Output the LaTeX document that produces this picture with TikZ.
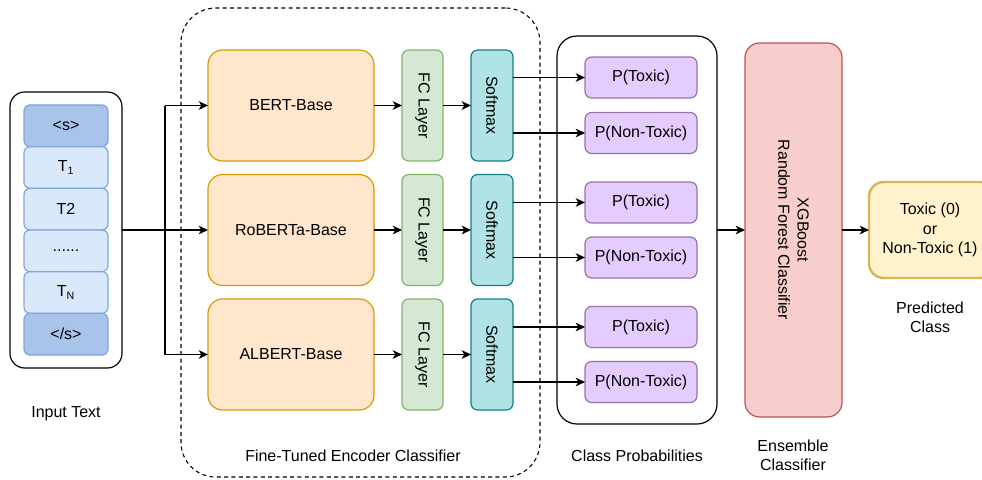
\documentclass[tikz,border=0pt]{standalone}
\usepackage{fontspec}
\setmainfont{Liberation Sans}
\usetikzlibrary{arrows.meta}
\definecolor{tokfill}{HTML}{DAE8FC}
\definecolor{tokdark}{HTML}{A9C4EB}
\definecolor{tokline}{HTML}{7EA6E0}
\definecolor{orfill}{HTML}{FFE6CC}
\definecolor{orline}{HTML}{D79B00}
\definecolor{grfill}{HTML}{D5E8D4}
\definecolor{grline}{HTML}{82B366}
\definecolor{cyfill}{HTML}{B0E3E6}
\definecolor{cyline}{HTML}{0E8088}
\definecolor{pufill}{HTML}{E5CCFF}
\definecolor{puline}{HTML}{9673A6}
\definecolor{refill}{HTML}{F8CECC}
\definecolor{reline}{HTML}{B85450}
\definecolor{yefill}{HTML}{FFF2CC}
\definecolor{yeline}{HTML}{D6B656}
\begin{document}
\begin{tikzpicture}[x=0.75pt,y=-0.75pt,
  every node/.style={font=\fontsize{12pt}{14.5pt}\selectfont, inner sep=0pt, outer sep=0pt, align=center},
  box/.style={draw, line width=0.9pt, rounded corners=#1},
  box/.default=5pt,
  tok/.style={box=4.5pt, draw=tokline, fill=tokfill, minimum width=63pt, minimum height=31.25pt},
  tokd/.style={tok, fill=tokdark},
  enc/.style={box=11pt, draw=orline, fill=orfill, minimum width=124.5pt, minimum height=83.25pt},
  fc/.style={box=5pt, draw=grline, fill=grfill, rotate=-90, minimum width=83.25pt, minimum height=30.75pt},
  sm/.style={box=5pt, draw=cyline, fill=cyfill, rotate=-90, minimum width=83.25pt, minimum height=31.5pt},
  pb/.style={box=5pt, draw=puline, fill=pufill, minimum width=84pt, minimum height=30.75pt},
  lbl/.style={},
  conn/.style={line width=0.9pt},
  arr/.style={conn, -{Stealth[length=7pt,width=6.5pt,inset=2pt]}}
]
\useasboundingbox (0,0) rectangle (982,479);
\clip (0,0) rectangle (982,479);
% containers
\node[box=11pt, draw=black, line width=0.9pt, minimum width=84pt, minimum height=207pt] (inp) at (66,230) {};
\node[box=26pt, draw=black, dashed, dash pattern=on 3pt off 2.5pt, line width=0.8pt, minimum width=269.25pt, minimum height=351.75pt] (ft) at (360.5,242.5) {};
\node[box=15pt, draw=black, line width=0.9pt, minimum width=120pt, minimum height=291pt] (cp) at (637,230) {};
% tokens
\node[tokd] (t0) at (66,125.8) {<s>};
\node[tok] (t1) at (66,167.5) {T\textsubscript{1}};
\node[tok] (t2) at (66,209.2) {T2};
\node[tok] (t3) at (66,250.8) {......};
\node[tok] (t4) at (66,292.5) {T\textsubscript{N}};
\node[tokd] (t5) at (66,334.2) {</s>};
% encoders
\node[enc] (bert) at (291,105.5) {BERT-Base};
\node[enc] (rob) at (291,230) {RoBERTa-Base};
\node[enc] (alb) at (291,354.5) {ALBERT-Base};
\node[fc] (fc1) at (422.5,105.5) {FC Layer};
\node[fc] (fc2) at (422.5,230) {FC Layer};
\node[fc] (fc3) at (422.5,354.5) {FC Layer};
\node[sm] (sm1) at (492,105.5) {Softmax};
\node[sm] (sm2) at (492,230) {Softmax};
\node[sm] (sm3) at (492,354.5) {Softmax};
% probabilities
\node[pb] (p1) at (641,77.5) {P(Toxic)};
\node[pb] (p2) at (641,133) {P(Non-Toxic)};
\node[pb] (p3) at (641,202.5) {P(Toxic)};
\node[pb] (p4) at (641,257.5) {P(Non-Toxic)};
\node[pb] (p5) at (641,327) {P(Toxic)};
\node[pb] (p6) at (641,382) {P(Non-Toxic)};
% ensemble
\node[box=11pt, draw=reline, fill=refill, rotate=-90, minimum width=280.5pt, minimum height=72.75pt] (ens) at (793.5,230) {XGBoost\\Random Forest Classifier};
% output
\node[box=11pt, draw=yeline, fill=yefill, line width=1.8pt, minimum width=94.5pt, minimum height=72pt] (out) at (932,230) {};
\node (outt) at (930,230) {Toxic (0)\\or\\Non-Toxic (1)};
% labels
\node[lbl] (l1) at (66,414) {Input Text};
\node[lbl] (l2) at (353,456) {Fine-Tuned Encoder Classifier};
\node[lbl] (l3) at (637,456) {Class Probabilities};
\node[lbl] (l4) at (793,455.5) {Ensemble\\Classifier};
\node[lbl] (l5) at (930,317) {Predicted\\Class};
% connectors (rotated nodes: south = left side, north = right side)
\coordinate (fork) at (165,230);
\draw[conn] (inp.east) -- (fork);
\draw[conn] (fork |- bert.west) -- (fork |- alb.west);
\draw[arr] (fork |- bert.west) -- (bert.west);
\draw[arr] (fork) -- (rob.west);
\draw[arr] (fork |- alb.west) -- (alb.west);
\draw[arr] (bert.east) -- (fc1.south);
\draw[arr] (rob.east) -- (fc2.south);
\draw[arr] (alb.east) -- (fc3.south);
\draw[arr] (fc1.north) -- (sm1.south);
\draw[arr] (fc2.north) -- (sm2.south);
\draw[arr] (fc3.north) -- (sm3.south);
\draw[arr] (sm1.north |- p1.west) -- (p1.west);
\draw[arr] (sm1.north |- p2.west) -- (p2.west);
\draw[arr] (sm2.north |- p3.west) -- (p3.west);
\draw[arr] (sm2.north |- p4.west) -- (p4.west);
\draw[arr] (sm3.north |- p5.west) -- (p5.west);
\draw[arr] (sm3.north |- p6.west) -- (p6.west);
\draw[arr] (cp.east) -- (ens.south);
\draw[arr] (ens.north) -- (out.west);
\end{tikzpicture}
\end{document}
